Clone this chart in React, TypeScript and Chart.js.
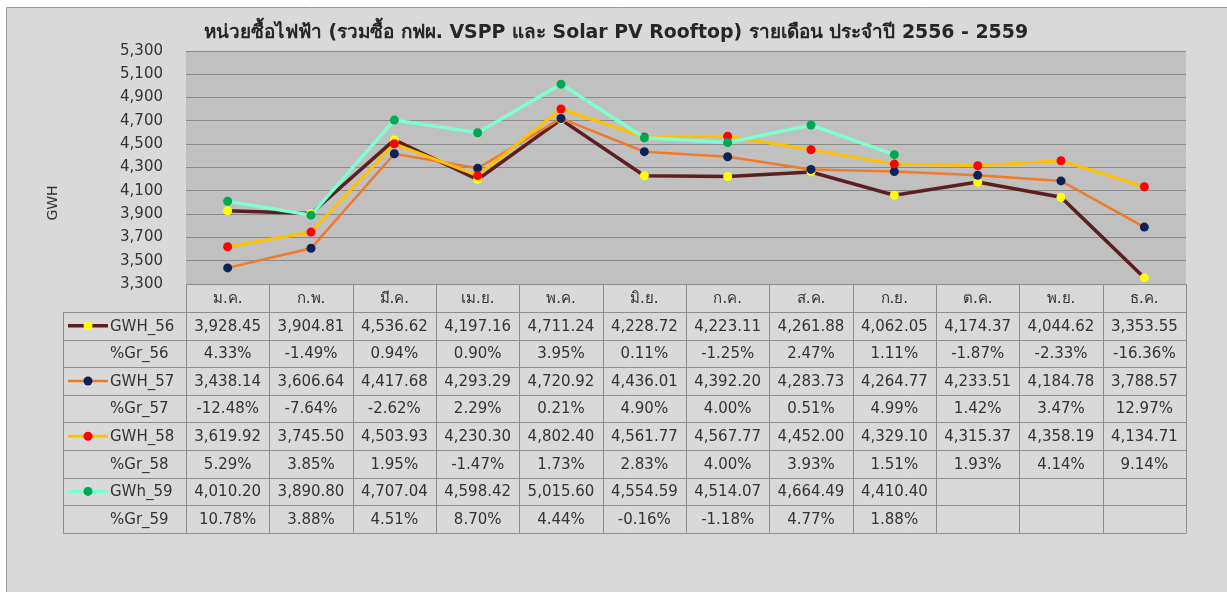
import React, { useEffect, useRef } from "react";
import { Chart, registerables } from "chart.js";

Chart.register(...registerables);

const title = "หน่วยซื้อไฟฟ้า (รวมซื้อ กฟผ. VSPP และ Solar PV Rooftop) รายเดือน ประจำปี 2556 - 2559";
const yAxisTitle = "GWH";
const months = ["ม.ค.", "ก.พ.", "มี.ค.", "เม.ย.", "พ.ค.", "มิ.ย.", "ก.ค.", "ส.ค.", "ก.ย.", "ต.ค.", "พ.ย.", "ธ.ค."];

const gwh56 = [3928.45, 3904.81, 4536.62, 4197.16, 4711.24, 4228.72, 4223.11, 4261.88, 4062.05, 4174.37, 4044.62, 3353.55];
const gr56 = [4.33, -1.49, 0.94, 0.9, 3.95, 0.11, -1.25, 2.47, 1.11, -1.87, -2.33, -16.36];
const gwh57 = [3438.14, 3606.64, 4417.68, 4293.29, 4720.92, 4436.01, 4392.2, 4283.73, 4264.77, 4233.51, 4184.78, 3788.57];
const gr57 = [-12.48, -7.64, -2.62, 2.29, 0.21, 4.9, 4.0, 0.51, 4.99, 1.42, 3.47, 12.97];
const gwh58 = [3619.92, 3745.5, 4503.93, 4230.3, 4802.4, 4561.77, 4567.77, 4452.0, 4329.1, 4315.37, 4358.19, 4134.71];
const gr58 = [5.29, 3.85, 1.95, -1.47, 1.73, 2.83, 4.0, 3.93, 1.51, 1.93, 4.14, 9.14];
const gwh59 = [4010.2, 3890.8, 4707.04, 4598.42, 5015.6, 4554.59, 4514.07, 4664.49, 4410.4, null, null, null];
const gr59 = [10.78, 3.88, 4.51, 8.7, 4.44, -0.16, -1.18, 4.77, 1.88, null, null, null];

const yMin = 3300;
const yMax = 5300;
const yStep = 200;

const FONT = "Tahoma, 'DejaVu Sans', Verdana, sans-serif";

const series = [
  { label: "GWH_56", data: gwh56, growth: gr56, growthLabel: "%Gr_56", line: "#5c1f1f", dot: "#ffff00", width: 3.5, order: 4 },
  { label: "GWH_57", data: gwh57, growth: gr57, growthLabel: "%Gr_57", line: "#f07a28", dot: "#0a2459", width: 2.5, order: 3 },
  { label: "GWH_58", data: gwh58, growth: gr58, growthLabel: "%Gr_58", line: "#ffc000", dot: "#ff0000", width: 3, order: 2 },
  { label: "GWh_59", data: gwh59, growth: gr59, growthLabel: "%Gr_59", line: "#7fffd0", dot: "#00a84f", width: 3.5, order: 1 },
];

const fmtNum = (v: number | null) =>
  v == null ? "" : v.toLocaleString("en-US", { minimumFractionDigits: 2, maximumFractionDigits: 2 });
const fmtPct = (v: number | null) => (v == null ? "" : v.toFixed(2) + "%");

const W = 1227;
const H = 592;
const TITLE_WIDTH = 827;

const framePlugin = {
  id: "frame",
  beforeDraw(chart: any) {
    const { ctx, chartArea } = chart;
    ctx.save();
    ctx.fillStyle = "#ffffff";
    ctx.fillRect(0, 0, W, H);
    ctx.fillStyle = "#d9d9d9";
    ctx.fillRect(7, 8, W - 7, H - 8);
    ctx.strokeStyle = "#9a9a9a";
    ctx.lineWidth = 1;
    ctx.beginPath();
    ctx.moveTo(6.5, H);
    ctx.lineTo(6.5, 7.5);
    ctx.lineTo(W, 7.5);
    ctx.stroke();
    ctx.fillStyle = "#c0c0c0";
    ctx.fillRect(chartArea.left, chartArea.top, chartArea.right - chartArea.left, chartArea.bottom - chartArea.top);
    // title
    ctx.fillStyle = "#262626";
    ctx.font = "bold 16px " + FONT;
    const w16 = ctx.measureText(title).width || TITLE_WIDTH;
    const size = Math.max(12, Math.min(22, (16 * TITLE_WIDTH) / w16));
    ctx.font = "bold " + size.toFixed(1) + "px " + FONT;
    ctx.textAlign = "center";
    ctx.textBaseline = "middle";
    ctx.fillText(title, 616, 33);
    // y-axis title
    ctx.translate(53, 203);
    ctx.rotate(-Math.PI / 2);
    ctx.font = "14px " + FONT;
    ctx.fillStyle = "#333333";
    ctx.fillText(yAxisTitle, 0, 0);
    ctx.restore();
  },
};

const tablePlugin = {
  id: "dataTable",
  afterDraw(chart: any) {
    const { ctx, chartArea } = chart;
    const xs = chart.scales.x;
    const n = months.length;
    const colW = (chartArea.right - chartArea.left) / n;
    const top = chartArea.bottom;
    const headerH = 28;
    const rowH = 27.6;
    const tableLeft = 63;
    const rows: { label: string; values: (number | null)[]; fmt: (v: number | null) => string; key?: any }[] = [];
    series.forEach((s) => {
      rows.push({ label: s.label, values: s.data, fmt: fmtNum, key: s });
      rows.push({ label: s.growthLabel, values: s.growth, fmt: fmtPct });
    });
    const bodyTop = top + headerH;
    const bottom = bodyTop + rows.length * rowH;
    ctx.save();
    ctx.strokeStyle = "#8c8c8c";
    ctx.lineWidth = 1;
    ctx.beginPath();
    for (let i = 0; i <= n; i++) {
      const x = Math.round(chartArea.left + i * colW) + 0.5;
      ctx.moveTo(x, top);
      ctx.lineTo(x, bottom);
    }
    ctx.moveTo(tableLeft + 0.5, bodyTop);
    ctx.lineTo(tableLeft + 0.5, bottom);
    for (let k = 0; k <= rows.length; k++) {
      const y = Math.round(bodyTop + k * rowH) + 0.5;
      ctx.moveTo(tableLeft, y);
      ctx.lineTo(chartArea.right + 0.5, y);
    }
    ctx.stroke();

    ctx.fillStyle = "#333333";
    ctx.font = "15px " + FONT;
    ctx.textAlign = "center";
    ctx.textBaseline = "middle";
    months.forEach((m, i) => {
      ctx.fillText(m, xs.getPixelForValue(i), top + headerH / 2 + 1);
    });
    rows.forEach((r, k) => {
      const cy = bodyTop + k * rowH + rowH / 2 + 1;
      ctx.textAlign = "center";
      ctx.fillStyle = "#333333";
      r.values.forEach((v, i) => {
        ctx.fillText(r.fmt(v), xs.getPixelForValue(i), cy);
      });
      ctx.textAlign = "left";
      ctx.fillText(r.label, 110, cy);
      if (r.key) {
        ctx.strokeStyle = r.key.line;
        ctx.lineWidth = r.key.width;
        ctx.beginPath();
        ctx.moveTo(68, cy - 1);
        ctx.lineTo(108, cy - 1);
        ctx.stroke();
        ctx.fillStyle = r.key.dot;
        ctx.beginPath();
        ctx.arc(88, cy - 1, 4.5, 0, Math.PI * 2);
        ctx.fill();
      }
    });
    ctx.restore();
  },
};

export default function App() {
  const ref = useRef<HTMLCanvasElement | null>(null);
  useEffect(() => {
    if (!ref.current) return;
    const chart = new Chart(ref.current, {
      type: "line",
      data: {
        labels: months,
        datasets: series.map((s) => ({
          label: s.label,
          data: s.data,
          borderColor: s.line,
          backgroundColor: s.dot,
          borderWidth: s.width,
          pointBackgroundColor: s.dot,
          pointBorderColor: s.dot,
          pointBorderWidth: 0,
          pointRadius: 4.5,
          tension: 0,
          order: s.order,
          clip: false as any,
          spanGaps: false,
        })),
      },
      options: {
        animation: false,
        responsive: false,
        devicePixelRatio: 1,
        layout: { padding: { left: 0, top: 51, right: 41, bottom: 308 } },
        plugins: { legend: { display: false }, title: { display: false }, tooltip: { enabled: false } },
        scales: {
          x: { type: "category", offset: true, display: false },
          y: {
            min: yMin,
            max: yMax,
            ticks: { stepSize: yStep, padding: 23, color: "#333333", font: { family: FONT, size: 15 } },
            grid: { color: "#8a8a8a", lineWidth: 1, drawTicks: false },
            border: { display: false },
            afterFit: (scale: any) => {
              scale.width = 186;
            },
          },
        },
      },
      plugins: [framePlugin, tablePlugin],
    });
    return () => chart.destroy();
  }, []);
  return (
    <div style={{ position: "absolute", left: 0, top: 0, width: W, height: H }}>
      <canvas ref={ref} width={W} height={H} style={{ width: W, height: H, display: "block" }} />
    </div>
  );
}
